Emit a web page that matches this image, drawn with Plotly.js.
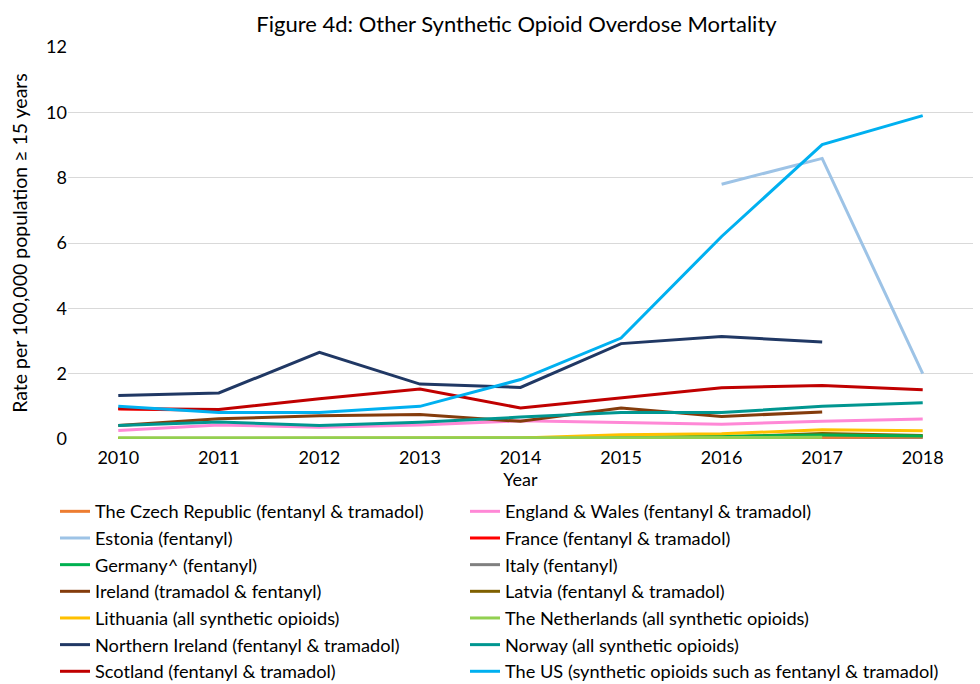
<!DOCTYPE html>
<html>
<head>
<meta charset="utf-8">
<script src="https://cdn.plot.ly/plotly-3.0.1.min.js"></script>
<style>html,body{margin:0;padding:0;background:#fff;overflow:hidden;}#chart{width:980px;height:700px;}</style>
</head>
<body>
<div id="chart"></div>
<script>
const years = [2010, 2011, 2012, 2013, 2014, 2015, 2016, 2017, 2018];

const czech       = [0.01, 0.01, 0.01, 0.02, 0.02, 0.03, 0.04, 0.06, 0.06];
const englandWales= [0.26, 0.43, 0.36, 0.43, 0.56, 0.51, 0.45, 0.54, 0.61];
const estonia     = [null, null, null, null, null, null, 7.80, 8.59, 2.00];
const france      = [0.92, 0.88, null, null, null, null, null, null, null];
const germany     = [0.02, 0.02, 0.02, 0.02, 0.02, 0.05, 0.08, 0.12, 0.09];
const italy       = [0.01, 0.01, 0.01, 0.01, 0.01, 0.01, 0.01, 0.02, 0.02];
const ireland     = [0.41, 0.62, 0.71, 0.75, 0.54, 0.95, 0.69, 0.83, null];
const latvia      = [null, null, null, null, null, null, 0.05, 0.17, 0.11];
const lithuania   = [0.02, 0.02, 0.02, 0.02, 0.03, 0.13, 0.16, 0.28, 0.25];
const netherlands = [0.03, 0.03, 0.03, 0.03, 0.03, 0.04, 0.04, 0.05, null];
const nIreland    = [1.33, 1.41, 2.65, 1.68, 1.58, 2.92, 3.14, 2.97, null];
const norway      = [0.41, 0.52, 0.41, 0.51, 0.67, 0.81, 0.81, 1.00, 1.11];
const scotland    = [0.93, 0.90, 1.23, 1.53, 0.95, 1.25, 1.57, 1.64, 1.51];
const us          = [1.00, 0.81, 0.81, 1.00, 1.82, 3.09, 6.20, 9.01, 9.90];

const yTicks = [0, 2, 4, 6, 8, 10, 12];

// [name, values, colour, legend column, rank within column] in drawing order
const series = [
  ["Italy (fentanyl)", italy, "#808080", "legend2", 3],
  ["The Czech Republic (fentanyl & tramadol)", czech, "#ED7D31", "legend", 1],
  ["Latvia (fentanyl & tramadol)", latvia, "#7F6000", "legend2", 4],
  ["Germany^ (fentanyl)", germany, "#00B050", "legend", 3],
  ["Lithuania (all synthetic opioids)", lithuania, "#FFC000", "legend", 5],
  ["The Netherlands (all synthetic opioids)", netherlands, "#92D050", "legend2", 5],
  ["England & Wales (fentanyl & tramadol)", englandWales, "#FF88D6", "legend2", 1],
  ["Ireland (tramadol & fentanyl)", ireland, "#843C0C", "legend", 4],
  ["Norway (all synthetic opioids)", norway, "#009690", "legend2", 6],
  ["France (fentanyl & tramadol)", france, "#FF0000", "legend2", 2],
  ["Scotland (fentanyl & tramadol)", scotland, "#C00000", "legend", 7],
  ["Northern Ireland (fentanyl & tramadol)", nIreland, "#203864", "legend", 6],
  ["Estonia (fentanyl)", estonia, "#9DC3E6", "legend", 2],
  ["The US (synthetic opioids such as fentanyl & tramadol)", us, "#00B0F0", "legend2", 7]
];

const traces = series.map(s => ({
  type: "scatter",
  mode: "lines",
  name: s[0],
  x: years,
  y: s[1],
  line: {color: s[2], width: 3},
  legend: s[3],
  legendrank: s[4],
  connectgaps: false,
  hoverinfo: "x+y+name"
}));

const font = "Lato, 'Open Sans', sans-serif";
const legendFont = {family: font, size: 18.2, color: "#000000"};
const H = 700;

// horizontal legends whose entries are too wide to share a row: one entry per row
const legendBase = {
  orientation: "h",
  xref: "container",
  yref: "container",
  xanchor: "left",
  y: 1 - 493 / H,
  yanchor: "top",
  entrywidth: 450,
  entrywidthmode: "pixels",
  traceorder: "normal",
  font: legendFont,
  bgcolor: "rgba(0,0,0,0)",
  itemwidth: 30
};

const layout = {
  width: 980,
  height: H,
  paper_bgcolor: "#ffffff",
  plot_bgcolor: "#ffffff",
  font: {family: font, color: "#000000", size: 18},
  margin: {l: 68, r: 7, t: 47, b: H - 439},
  title: {
    text: "Figure 4d: Other Synthetic Opioid Overdose Mortality",
    font: {family: font, size: 22, color: "#000000"},
    x: 0.527, xanchor: "center", y: 1 - 24 / H, yanchor: "middle"
  },
  xaxis: {
    range: [2009.5, 2018.5],
    tickmode: "array",
    tickvals: years,
    ticktext: years.map(String),
    showgrid: false,
    zeroline: false,
    showline: false,
    ticks: "outside",
    ticklen: 2,
    tickcolor: "rgba(0,0,0,0)",
    tickfont: {family: font, size: 18},
    title: {text: "Year", font: {family: font, size: 18}, standoff: 4}
  },
  yaxis: {
    range: [0, 12],
    tickmode: "array",
    tickvals: yTicks,
    ticktext: yTicks.map(String),
    showgrid: true,
    gridcolor: "#D9D9D9",
    gridwidth: 1,
    zeroline: false,
    showline: false,
    ticks: "",
    ticklen: 0,
    tickfont: {family: font, size: 18},
    title: {text: "Rate per 100,000 population ≥ 15 years", font: {family: font, size: 19.5}, standoff: 13}
  },
  legend: Object.assign({}, legendBase, {x: 55 / 980}),
  legend2: Object.assign({}, legendBase, {x: 465 / 980}),
  showlegend: true
};

Plotly.newPlot("chart", traces, layout, {displayModeBar: false, staticPlot: true});
</script>
</body>
</html>
